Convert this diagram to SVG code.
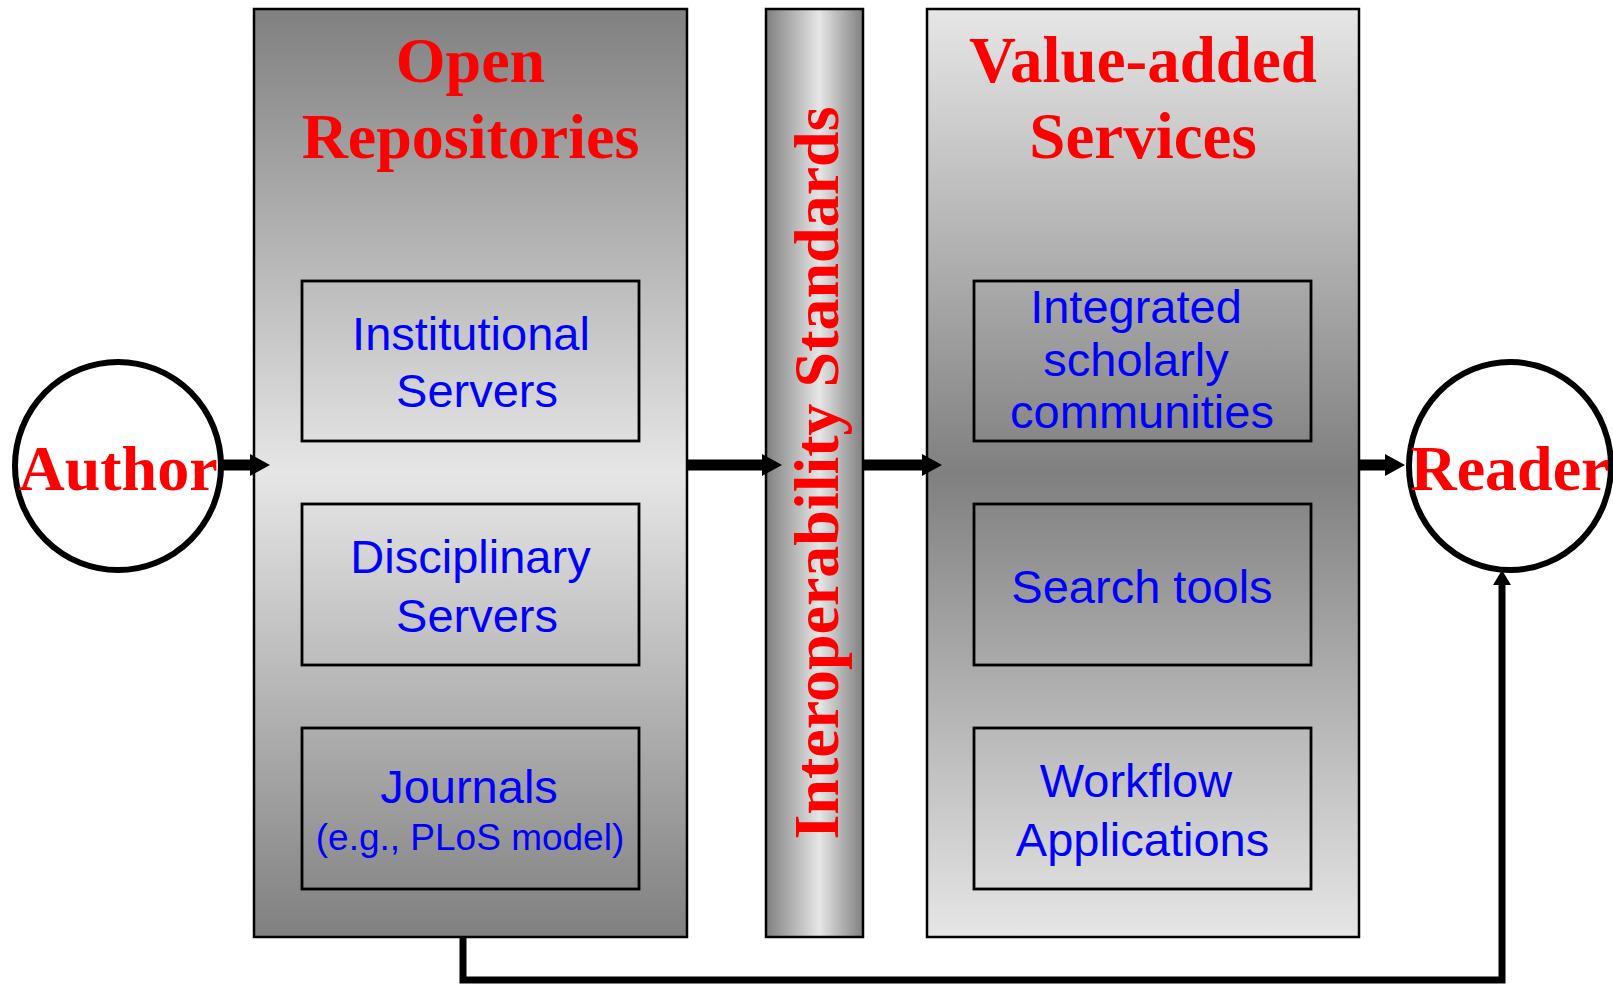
<svg xmlns="http://www.w3.org/2000/svg" width="1613" height="984" viewBox="0 0 1613 984">
<style>
.title{font-family:"Liberation Serif","Times New Roman",serif;font-weight:bold;fill:#ff0000;font-size:64px;text-anchor:middle}
.lbl{font-family:"Liberation Sans",Arial,sans-serif;fill:#0000ff;font-size:47px;text-anchor:middle}
.sm{font-size:37px}
.box{stroke:#000;stroke-width:2.5}
.inner{fill:none;stroke:#000;stroke-width:2.8}
.circ{fill:#fff;stroke:#000;stroke-width:6}
.conn{stroke:#000;stroke-width:11;fill:none}
.conn2{stroke:#000;stroke-width:7;fill:none}
</style>
<defs>
<linearGradient id="gDark" x1="0" y1="0" x2="0" y2="1">
<stop offset="0" stop-color="#808080"/>
<stop offset="0.5" stop-color="#e6e6e6"/>
<stop offset="1" stop-color="#808080"/>
</linearGradient>
<linearGradient id="gLight" x1="0" y1="0" x2="0" y2="1">
<stop offset="0" stop-color="#e6e6e6"/>
<stop offset="0.5" stop-color="#808080"/>
<stop offset="1" stop-color="#e6e6e6"/>
</linearGradient>
<linearGradient id="gCol" x1="0" y1="0" x2="1" y2="0">
<stop offset="0" stop-color="#808080"/>
<stop offset="0.55" stop-color="#e6e6e6"/>
<stop offset="1" stop-color="#808080"/>
</linearGradient>
<marker id="ah" markerUnits="userSpaceOnUse" markerWidth="20" markerHeight="22" refX="0" refY="11" orient="auto" overflow="visible">
<path d="M0,0 L20,11 L0,22 z" fill="#000"/>
</marker>
<marker id="ah2" markerUnits="userSpaceOnUse" markerWidth="15" markerHeight="18" refX="0" refY="9" orient="auto" overflow="visible">
<path d="M0,0 L15,9 L0,18 z" fill="#000"/>
</marker>
</defs>

<g id="open-repositories">
<rect class="box" x="254" y="9" width="433" height="928" fill="url(#gDark)"/>
<text class="title" x="470.5" y="82">Open</text>
<text class="title" x="470.5" y="158">Repositories</text>
</g>
<g id="institutional-servers">
<rect class="inner" x="302" y="281" width="337" height="160"/>
<text class="lbl" x="471" y="350">Institutional</text>
<text class="lbl" x="477" y="407">Servers</text>
</g>
<g id="disciplinary-servers">
<rect class="inner" x="302" y="504" width="337" height="161"/>
<text class="lbl" x="470.5" y="573">Disciplinary</text>
<text class="lbl" x="477" y="632">Servers</text>
</g>
<g id="journals">
<rect class="inner" x="302" y="728" width="337" height="161"/>
<text class="lbl" x="469" y="803">Journals</text>
<text class="lbl sm" x="470" y="850">(e.g., PLoS model)</text>
</g>

<g id="interoperability-standards">
<rect class="box" x="766" y="9" width="97" height="928" fill="url(#gCol)"/>
<text class="title" transform="translate(838,473) rotate(-90)" x="0" y="0">Interoperability Standards</text>
</g>

<g id="value-added-services">
<rect class="box" x="927" y="9" width="432" height="928" fill="url(#gLight)"/>
<text class="title" style="font-size:65px" x="1143" y="82">Value-added</text>
<text class="title" style="font-size:65px" x="1143" y="158">Services</text>
</g>
<g id="integrated-communities">
<rect class="inner" x="974" y="281" width="337" height="160"/>
<text class="lbl" x="1136" y="323">Integrated</text>
<text class="lbl" x="1136" y="376">scholarly</text>
<text class="lbl" x="1142" y="428">communities</text>
</g>
<g id="search-tools">
<rect class="inner" x="974" y="504" width="337" height="161"/>
<text class="lbl" x="1142" y="603">Search tools</text>
</g>
<g id="workflow-applications">
<rect class="inner" x="974" y="728" width="337" height="161"/>
<text class="lbl" x="1136" y="797">Workflow</text>
<text class="lbl" x="1142.5" y="856">Applications</text>
</g>

<g id="author">
<ellipse class="circ" cx="118" cy="466" rx="103" ry="104"/>
<text class="title" x="118" y="490">Author</text>
</g>
<g id="reader">
<ellipse class="circ" cx="1510" cy="466" rx="101" ry="104"/>
<text class="title" x="1510" y="490">Reader</text>
</g>

<g id="connectors">
<line class="conn" x1="221" y1="465" x2="250" y2="465" marker-end="url(#ah)"/>
<line class="conn" x1="687" y1="465" x2="762" y2="465" marker-end="url(#ah)"/>
<line class="conn" x1="863" y1="465" x2="922" y2="465" marker-end="url(#ah)"/>
<line class="conn" x1="1359" y1="465" x2="1385" y2="465" marker-end="url(#ah)"/>
<path class="conn2" d="M463,937 V980 H1502 V585" marker-end="url(#ah2)"/>
</g>
</svg>
